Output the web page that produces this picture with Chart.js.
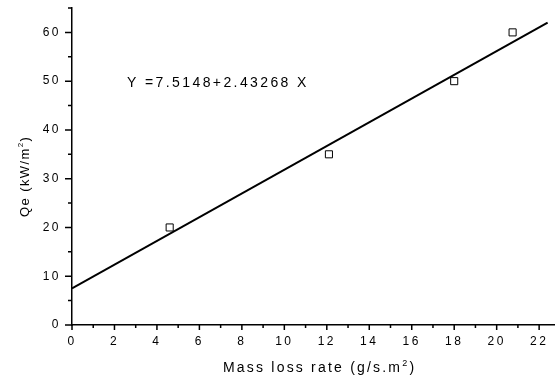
<!DOCTYPE html>
<html>
<head>
<meta charset="utf-8">
<script src="https://cdn.jsdelivr.net/npm/chart.js@4.4.1/dist/chart.umd.min.js"></script>
<style>
  html, body { margin: 0; padding: 0; background: #fff; }
  #wrap { width: 560px; height: 380px; }
</style>
</head>
<body>
<div id="wrap"><canvas id="chart" width="560" height="380"></canvas></div>
<script>
// measured points (mass loss rate vs heat flux)
const massLoss = [4.6, 12.1, 18.0, 20.75];
const qe = [20, 35, 50, 60];

// fitted line as drawn (ends)
const fitX = [0, 22.4];
const fitY = [7.5, 62.0];

const xMajorTicks = [0, 2, 4, 6, 8, 10, 12, 14, 16, 18, 20, 22];
const xMinorTicks = [1, 3, 5, 7, 9, 11, 13, 15, 17, 19, 21];
const yMajorTicks = [0, 10, 20, 30, 40, 50, 60];
const yMinorTicks = [5, 15, 25, 35, 45, 55, 65];

const equationText = 'Y =7.5148+2.43268 X';
const FONT = 'Arial, "Liberation Sans", sans-serif';

// draws text with a raised small "2" piece in the middle
function drawSup(ctx, parts, x, y, size, spacing) {
  let cx = x;
  parts.forEach(p => {
    const fs = p.sup ? Math.round(size * 0.65) : size;
    ctx.font = fs + 'px ' + FONT;
    ctx.letterSpacing = spacing + 'px';
    ctx.fillText(p.t, cx, p.sup ? y - size * 0.45 : y);
    cx += ctx.measureText(p.t).width;
  });
}

function noPad(s) {
  s.paddingTop = 0; s.paddingBottom = 0; s.paddingLeft = 0; s.paddingRight = 0;
}

const axisDecor = {
  id: 'axisDecor',
  beforeDraw(chart) {
    chart.ctx.letterSpacing = '2.5px';
  },
  afterDraw(chart) {
    const ctx = chart.ctx;
    const xs = chart.scales.x, ys = chart.scales.y;
    const x0 = xs.left, yb = ys.bottom;
    ctx.save();
    ctx.strokeStyle = '#000';
    ctx.lineWidth = 1.5;
    ctx.beginPath();
    xMajorTicks.forEach(v => { const p = xs.getPixelForValue(v); ctx.moveTo(p, yb); ctx.lineTo(p, yb + 5); });
    xMinorTicks.forEach(v => { const p = xs.getPixelForValue(v); ctx.moveTo(p, yb); ctx.lineTo(p, yb + 3); });
    yMajorTicks.forEach(v => { const p = ys.getPixelForValue(v); ctx.moveTo(x0, p); ctx.lineTo(x0 - 7, p); });
    yMinorTicks.forEach(v => { const p = ys.getPixelForValue(v); ctx.moveTo(x0, p); ctx.lineTo(x0 - 4, p); });
    ctx.stroke();

    ctx.fillStyle = '#000';
    ctx.textBaseline = 'alphabetic';
    ctx.textAlign = 'left';

    // equation
    ctx.font = '14px ' + FONT;
    ctx.letterSpacing = '2.4px';
    ctx.fillText(equationText, 127, 87);

    // x title
    drawSup(ctx, [{t: 'Mass loss rate (g/s.m'}, {t: '2', sup: true}, {t: ')'}], 223, 372, 14, 2.2);

    // y title, rotated
    ctx.translate(29, 217);
    ctx.rotate(-Math.PI / 2);
    drawSup(ctx, [{t: 'Qe (kW/m'}, {t: '2', sup: true}, {t: ')'}], 0, 0, 13, 1.4);
    ctx.restore();
  }
};

new Chart(document.getElementById('chart'), {
  type: 'scatter',
  data: {
    datasets: [
      {
        data: massLoss.map((v, i) => ({x: v, y: qe[i]})),
        pointStyle: 'rect',
        pointRadius: 5,
        pointBorderWidth: 1,
        borderColor: '#000',
        backgroundColor: 'rgba(0,0,0,0)'
      },
      {
        data: fitX.map((v, i) => ({x: v, y: fitY[i]})),
        showLine: true,
        pointRadius: 0,
        borderColor: '#000',
        borderWidth: 2
      }
    ]
  },
  options: {
    responsive: false,
    animation: false,
    events: [],
    layout: { padding: { top: 8, right: 0, left: 0, bottom: 0 } },
    plugins: { legend: { display: false }, tooltip: { enabled: false } },
    scales: {
      x: {
        type: 'linear', min: 0, max: 22.7,
        afterBuildTicks: s => { s.ticks = xMajorTicks.map(v => ({value: v})); },
        afterFit: s => { s.height = 55; noPad(s); },
        grid: { display: false, drawTicks: false },
        border: { display: true, color: '#000', width: 1.5 },
        ticks: { color: '#000', padding: 9, maxRotation: 0, font: { family: FONT, size: 12 } }
      },
      y: {
        type: 'linear', min: 0, max: 65,
        afterBuildTicks: s => { s.ticks = yMajorTicks.map(v => ({value: v})); },
        afterFit: s => { s.width = 72; noPad(s); },
        grid: { display: false, drawTicks: false },
        border: { display: true, color: '#000', width: 1.5 },
        ticks: { color: '#000', padding: 11, font: { family: FONT, size: 12 } }
      }
    }
  },
  plugins: [axisDecor]
});
</script>
</body>
</html>
